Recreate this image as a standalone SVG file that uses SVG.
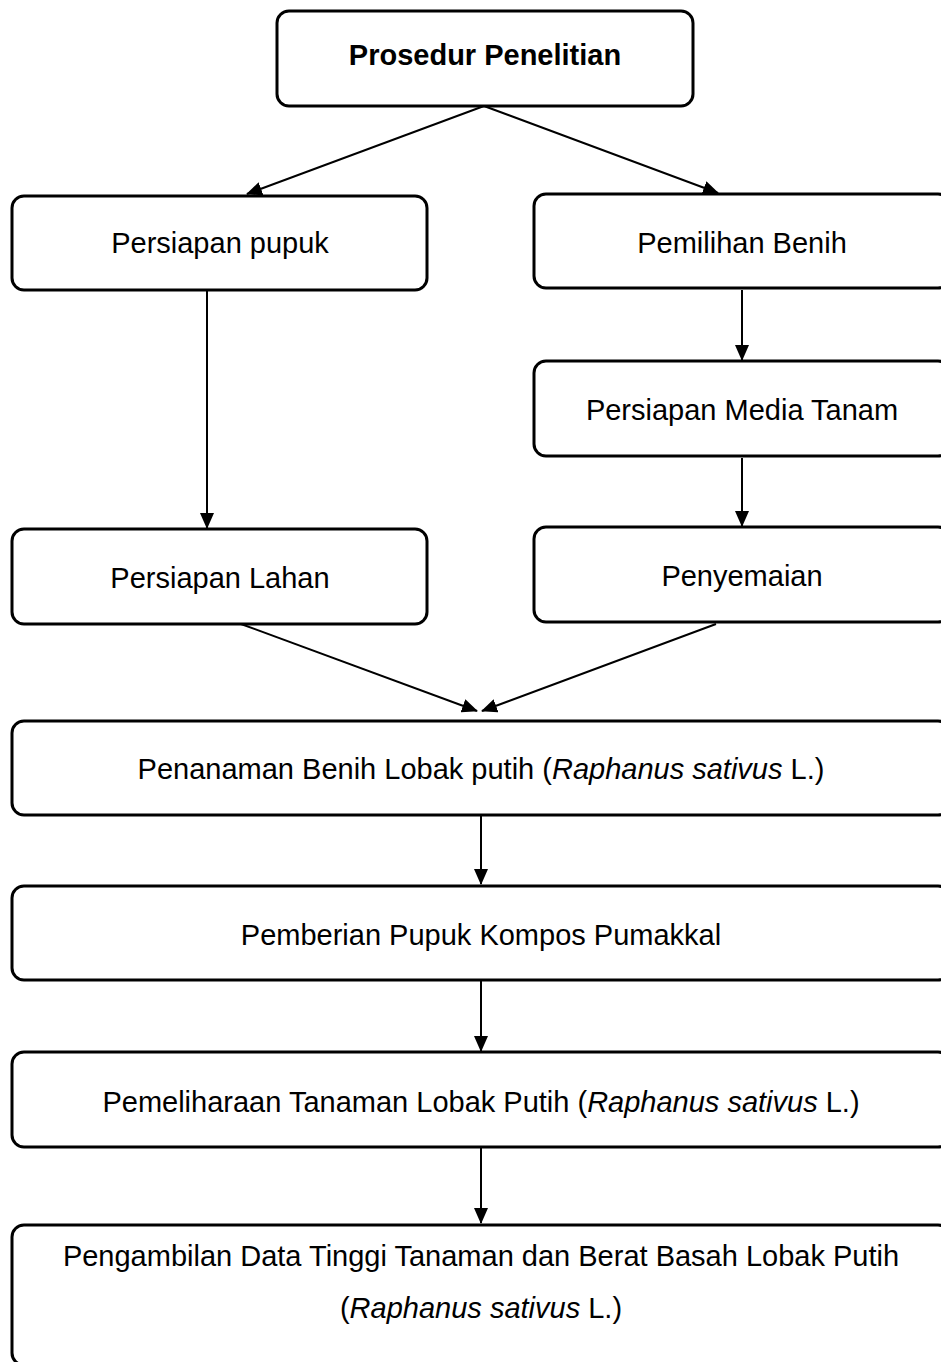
<svg xmlns="http://www.w3.org/2000/svg" width="941" height="1362" viewBox="0 0 941 1362">
<style>
.box{fill:#fff;stroke:#000;stroke-width:3}
.t{font-family:"Liberation Sans",Arial,sans-serif;font-size:29px;fill:#000;text-anchor:middle}
.b{font-weight:bold}
.i{font-style:italic}
.c{stroke:#000;stroke-width:2;fill:none;marker-end:url(#ah)}
</style>
<defs>
<marker id="ah" markerUnits="userSpaceOnUse" markerWidth="16" markerHeight="14" refX="15" refY="7" orient="auto">
<path d="M0,0 L16,7 L0,14 z" fill="#000"/>
</marker>
</defs>
<rect width="941" height="1362" fill="#fff"/>
<g id="connectors">
<line class="c" x1="484" y1="106" x2="247" y2="194"/>
<line class="c" x1="484" y1="106" x2="718" y2="193"/>
<line class="c" x1="207" y1="291" x2="207" y2="528"/>
<line class="c" x1="742" y1="290" x2="742" y2="360"/>
<line class="c" x1="742" y1="458" x2="742" y2="526"/>
<line class="c" x1="241" y1="624" x2="477" y2="711"/>
<line class="c" x1="716" y1="624" x2="482" y2="711"/>
<line class="c" x1="481" y1="816" x2="481" y2="884"/>
<line class="c" x1="481" y1="981" x2="481" y2="1051"/>
<line class="c" x1="481" y1="1148" x2="481" y2="1223"/>
</g>
<g id="n1">
<rect class="box" x="277" y="11" width="416" height="95" rx="12"/>
<text class="t b" x="485" y="65">Prosedur Penelitian</text>
</g>
<g id="n2">
<rect class="box" x="12" y="196" width="415" height="94" rx="12"/>
<text class="t" x="220" y="253">Persiapan pupuk</text>
</g>
<g id="n3">
<rect class="box" x="534" y="194" width="416" height="94" rx="12"/>
<text class="t" x="742" y="253">Pemilihan Benih</text>
</g>
<g id="n4">
<rect class="box" x="534" y="361" width="416" height="95" rx="12"/>
<text class="t" x="742" y="420">Persiapan Media Tanam</text>
</g>
<g id="n5">
<rect class="box" x="12" y="529" width="415" height="95" rx="12"/>
<text class="t" x="220" y="588">Persiapan Lahan</text>
</g>
<g id="n6">
<rect class="box" x="534" y="527" width="416" height="95" rx="12"/>
<text class="t" x="742" y="586">Penyemaian</text>
</g>
<g id="n7">
<rect class="box" x="12" y="721" width="938" height="94" rx="12"/>
<text class="t" x="481" y="779">Penanaman Benih Lobak putih (<tspan class="i">Raphanus sativus</tspan> L.)</text>
</g>
<g id="n8">
<rect class="box" x="12" y="886" width="938" height="94" rx="12"/>
<text class="t" x="481" y="945">Pemberian Pupuk Kompos Pumakkal</text>
</g>
<g id="n9">
<rect class="box" x="12" y="1052" width="938" height="95" rx="12"/>
<text class="t" x="481" y="1112">Pemeliharaan Tanaman Lobak Putih (<tspan class="i">Raphanus sativus</tspan> L.)</text>
</g>
<g id="n10">
<rect class="box" x="12" y="1225" width="938" height="140" rx="12"/>
<text class="t" x="481" y="1266">Pengambilan Data Tinggi Tanaman dan Berat Basah Lobak Putih</text>
<text class="t" x="481" y="1318">(<tspan class="i">Raphanus sativus</tspan> L.)</text>
</g>
</svg>
